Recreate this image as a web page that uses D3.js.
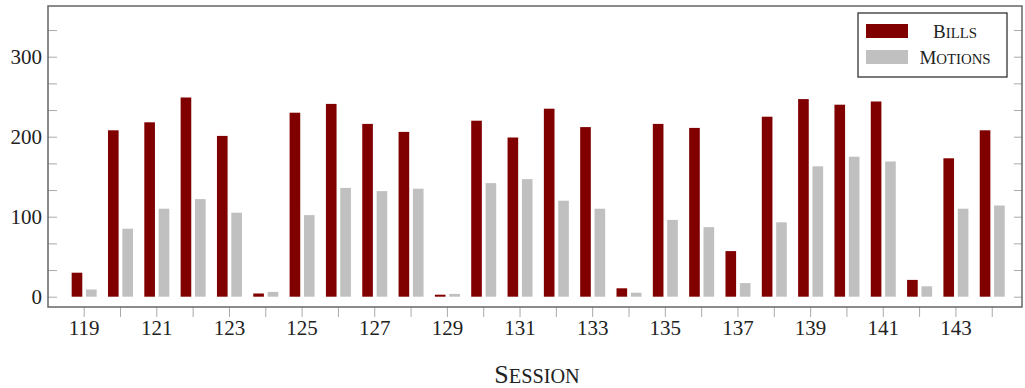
<!DOCTYPE html>
<html>
<head>
<meta charset="utf-8">
<script src="https://cdn.jsdelivr.net/npm/d3@7"></script>
<style>
  body { margin: 0; background: #fff; }
  svg { font-family: "Liberation Serif", "DejaVu Serif", serif; }
  .axis path { display: none; }
  .axis line { stroke: #aaa; }
  .axis text { fill: #222; font-size: 21px; font-family: "Liberation Serif", serif; }
</style>
</head>
<body>
<div id="chart"></div>
<script>
// sessions and counts
var sessions = d3.range(119, 145);
var bills   = [30, 208, 218, 249, 201, 4, 230, 241, 216, 206, 2.5, 220, 199, 235, 212, 10.5, 216, 211, 57, 225, 247, 240, 244, 21, 173, 208];
var motions = [9, 85, 110, 122, 105, 6, 102, 136, 132, 135, 3.5, 142, 147, 120, 110, 5, 96, 87, 17, 93, 163, 175, 169, 13, 110, 114];
var seriesNames = ["Bills", "Motions"];
var seriesColors = ["#800000", "#c0c0c0"];
var majorTicks = [0, 100, 200, 300];

var W = 1025, H = 388;
var frame = { left: 48, right: 1022, top: 6, bottom: 307 };

var svg = d3.select("#chart").append("svg")
  .attr("width", W)
  .attr("height", H);

var x = d3.scaleBand()
  .domain(sessions)
  .range([66, 1010.4])
  .padding(0);

var xs = d3.scaleBand()
  .domain(seriesNames)
  .range([-12.5, 12.5])
  .paddingInner(0.26);

var y = d3.scaleLinear()
  .domain([0, 300])
  .range([296.7, 56.7]);

var minorTicks = d3.range(1, 11).map(function(i) { return i * 100 / 3; })
  .filter(function(v) { return Math.abs(v - Math.round(v)) > 0.01; });

// fake small caps: first letter full size, rest capitals a bit smaller
function smallCaps(sel, size) {
  sel.each(function(d) {
    var t = d3.select(this), s = t.attr("data-label") || d;
    t.append("tspan").style("font-size", size + "px").text(s[0]);
    t.append("tspan").style("font-size", (size * 0.78) + "px").text(s.slice(1).toUpperCase());
  });
}

// bars
var data = sessions.map(function(s, i) {
  return { s: s, vals: [bills[i], motions[i]] };
});

var groups = svg.append("g").selectAll("g")
  .data(data)
  .enter().append("g")
  .attr("transform", function(d) { return "translate(" + (x(d.s) + x.bandwidth() / 2) + ",0)"; });

groups.selectAll("rect")
  .data(function(d) { return d.vals.map(function(v, j) { return { v: v, name: seriesNames[j], c: seriesColors[j] }; }); })
  .enter().append("rect")
  .attr("x", function(d) { return xs(d.name); })
  .attr("width", xs.bandwidth())
  .attr("y", function(d) { return y(d.v); })
  .attr("height", function(d) { return y(0) - y(d.v); })
  .attr("fill", function(d) { return d.c; });

// y axis left (ticks inside)
svg.append("g")
  .attr("class", "axis")
  .attr("transform", "translate(" + frame.left + ",0)")
  .call(d3.axisLeft(y).tickValues(majorTicks).tickSize(-9).tickPadding(6).tickFormat(d3.format("d")));

svg.append("g")
  .attr("class", "axis")
  .attr("transform", "translate(" + frame.left + ",0)")
  .call(d3.axisLeft(y).tickValues(minorTicks).tickSize(-9).tickFormat(""));

// y axis right, mirrored
svg.append("g")
  .attr("class", "axis")
  .attr("transform", "translate(" + frame.right + ",0)")
  .call(d3.axisRight(y).tickValues(majorTicks.concat(minorTicks)).tickSize(-8).tickFormat(""));

// x axis, ticks below the frame
svg.append("g")
  .attr("class", "axis")
  .attr("transform", "translate(0," + frame.bottom + ")")
  .call(d3.axisBottom(x).tickSize(10).tickPadding(3)
    .tickFormat(function(d) { return d % 2 ? d : ""; }));

// frame
svg.append("rect")
  .attr("x", frame.left)
  .attr("y", frame.top)
  .attr("width", frame.right - frame.left)
  .attr("height", frame.bottom - frame.top)
  .attr("fill", "none")
  .attr("stroke", "#666")
  .attr("stroke-width", 1.5);

// axis title
svg.append("text")
  .attr("data-label", "Session")
  .attr("x", 537)
  .attr("y", 383)
  .attr("text-anchor", "middle")
  .attr("fill", "#222")
  .call(smallCaps, 26);

// legend
var legend = svg.append("g").attr("transform", "translate(858,13)");
legend.append("rect")
  .attr("width", 149)
  .attr("height", 64)
  .attr("fill", "#fff")
  .attr("stroke", "#333")
  .attr("stroke-width", 1.3);

var items = legend.selectAll("g.item")
  .data(seriesNames)
  .enter().append("g")
  .attr("class", "item")
  .attr("transform", function(d, i) { return "translate(0," + (i * 26) + ")"; });

items.append("rect")
  .attr("x", 8)
  .attr("y", 11)
  .attr("width", 42)
  .attr("height", 14)
  .attr("fill", function(d, i) { return seriesColors[i]; });

items.append("text")
  .attr("x", 97)
  .attr("y", 25)
  .attr("text-anchor", "middle")
  .attr("fill", "#222")
  .call(smallCaps, 19);
</script>
</body>
</html>
